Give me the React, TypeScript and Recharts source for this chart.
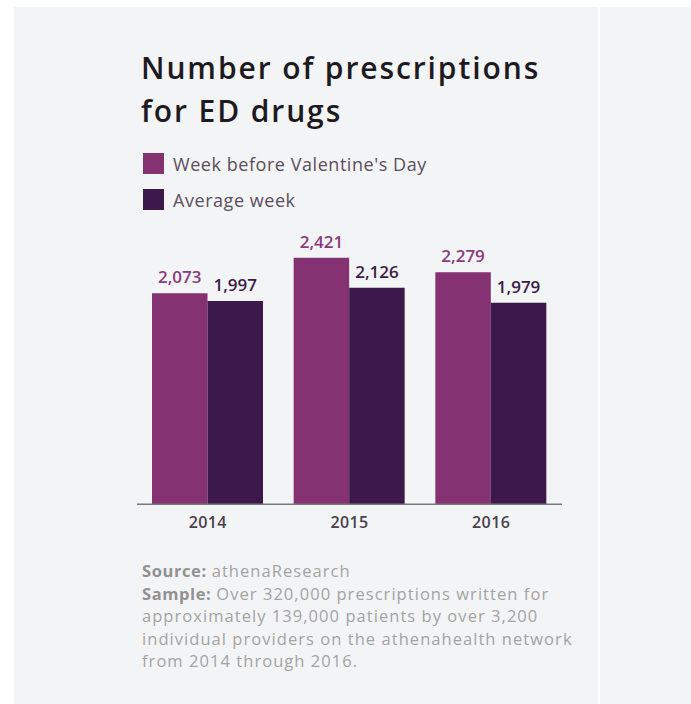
import React from "react";
import { BarChart, Bar, XAxis, YAxis, LabelList } from "recharts";

const years = ["2014", "2015", "2016"];
const valentineWeek = [2073, 2421, 2279];
const averageWeek = [1997, 2126, 1979];
const seriesNames = ["Week before Valentine's Day", "Average week"];
const seriesColors = ["#853273", "#3c184b"];
const labelColors = ["#8c3a7d", "#3a1c48"];
const titleLines = ["Number of prescriptions", "for ED drugs"];
const noteLines: [string, string][] = [
  ["Source: ", "athenaResearch"],
  ["Sample: ", "Over 320,000 prescriptions written for"],
  ["", "approximately 139,000 patients by over 3,200"],
  ["", "individual providers on the athenahealth network"],
  ["", "from 2014 through 2016."],
];

const data = years.map((y, i) => ({ year: y, vday: valentineWeek[i], avg: averageWeek[i] }));
const fmt = (v: number) => v.toLocaleString("en-US");
const FONT = "'Open Sans', 'Noto Sans', sans-serif";

export default function App() {
  return (
    <div style={{ position: "fixed", left: 0, top: 0, width: 691, height: 704, background: "#ffffff", fontFamily: FONT }}>
      <div style={{ position: "absolute", left: 14, top: 7, right: 0, bottom: 0, background: "#f3f4f6" }} />
      <div style={{ position: "absolute", left: 598, top: 7, width: 2, bottom: 0, background: "#ffffff" }} />
      <div style={{ position: "absolute", left: 0, top: 0 }}>
        <BarChart
          width={691}
          height={704}
          data={data}
          margin={{ top: 249.65, right: 129, bottom: 169.7, left: 137 }}
          barGap={0}
          barSize={55.5}
        >
          <YAxis hide domain={[0, 2500]} />
          <XAxis
            dataKey="year"
            height={30}
            tickSize={0}
            tickMargin={12}
            axisLine={{ stroke: "#7a7a7a", strokeWidth: 1.5 }}
            tick={{ fill: "#4a3f4c", fontSize: 16, fontWeight: 600, fontFamily: FONT, letterSpacing: 0.4 }}
          />
          <Bar dataKey="vday" name={seriesNames[0]} fill={seriesColors[0]} isAnimationActive={false}>
            <LabelList dataKey="vday" position="top" offset={10} formatter={(v: any) => fmt(Number(v))}
              style={{ fill: labelColors[0], fontSize: 17, fontWeight: 600, fontFamily: FONT }} />
          </Bar>
          <Bar dataKey="avg" name={seriesNames[1]} fill={seriesColors[1]} isAnimationActive={false}>
            <LabelList dataKey="avg" position="top" offset={10} formatter={(v: any) => fmt(Number(v))}
              style={{ fill: labelColors[1], fontSize: 17, fontWeight: 600, fontFamily: FONT }} />
          </Bar>
        </BarChart>
      </div>
      {titleLines.map((t, i) => (
        <div key={t} style={{ position: "absolute", left: 141, top: 48 + i * 42.7, fontSize: 30, lineHeight: "40px", fontWeight: 600, color: "#1e1a22", letterSpacing: 1.9, whiteSpace: "nowrap" }}>
          {t}
        </div>
      ))}
      {seriesNames.map((n, i) => (
        <div key={n} style={{ position: "absolute", left: 143, top: 153 + i * 36, height: 21, display: "flex", alignItems: "center", whiteSpace: "nowrap" }}>
          <div style={{ width: 21, height: 21, background: seriesColors[i] }} />
          <span style={{ marginLeft: 9, fontSize: 18, fontWeight: 500, color: "#5b4e5e", letterSpacing: 0.55 }}>{n}</span>
        </div>
      ))}
      {noteLines.map(([b, r], i) => (
        <div key={i} style={{ position: "absolute", left: 142, top: 560 + i * 22.6, fontSize: 16.5, lineHeight: "22px", color: "#a3a3a3", whiteSpace: "nowrap", letterSpacing: 1.05 }}>
          {b && <span style={{ fontWeight: 700, color: "#919191", letterSpacing: 0.6 }}>{b}</span>}
          {r}
        </div>
      ))}
    </div>
  );
}
